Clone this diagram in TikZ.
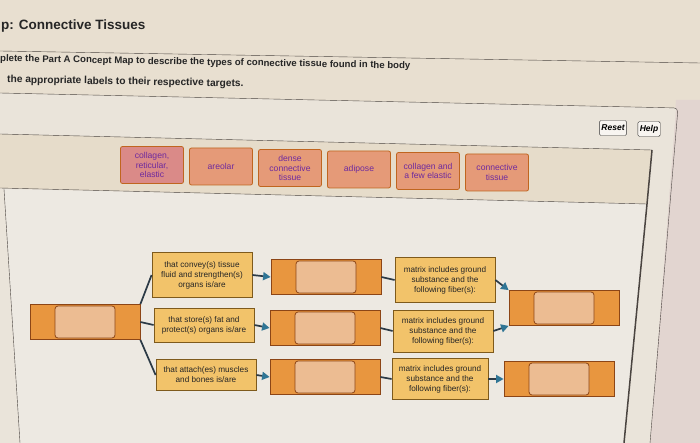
\documentclass[tikz,border=0pt]{standalone}
\usepackage{fontspec}
\setmainfont{Liberation Sans}
\usetikzlibrary{arrows.meta}
\definecolor{paper}{HTML}{E8DFD0}
\definecolor{panel}{HTML}{EAE4DA}
\definecolor{bank}{HTML}{E6DCCA}
\definecolor{map}{HTML}{EDE9E2}
\definecolor{rim}{HTML}{E2D5D0}
\definecolor{ruleline}{HTML}{4A4440}
\definecolor{tilefill}{HTML}{E59A78}
\definecolor{tilepink}{HTML}{DA8A88}
\definecolor{tileline}{HTML}{C0651F}
\definecolor{tiletext}{HTML}{6E2A9E}
\definecolor{descfill}{HTML}{F2C36A}
\definecolor{descline}{HTML}{7E5A1C}
\definecolor{boxfill}{HTML}{E8963F}
\definecolor{boxline}{HTML}{8C4516}
\definecolor{slotfill}{HTML}{ECBC92}
\definecolor{linkline}{HTML}{2C3A46}
\definecolor{tipblue}{HTML}{2F7595}

\begin{document}
\begin{tikzpicture}[x=1pt, y=-1pt, node distance=69pt,
	label node/.style={draw=tileline, fill=tilefill, rounded corners=2pt, thick, minimum width=63pt, minimum height=37pt, inner sep=1pt, align=center, text=tiletext, font=\fontsize{8.6}{9.8}\selectfont},
	text node/.style={draw=descline, fill=descfill, thick, minimum width=100pt, inner sep=1.5pt, align=center, text=black!85, font=\fontsize{8.2}{10}\selectfont},
	target node/.style={draw=boxline, fill=boxfill, thick, minimum width=110pt, minimum height=35pt},
	slot node/.style={draw=boxline, fill=slotfill, rounded corners=3pt, thick, minimum width=60pt, minimum height=32pt},
	button node/.style={draw=black!80, fill=white!70!paper, rounded corners=1.5pt, inner sep=2pt, minimum height=15pt, font=\fontsize{8.5}{9}\selectfont\bfseries\itshape},
	head node/.style={anchor=west, text=black!85, inner sep=0pt},
	link/.style={draw=linkline, line width=1.7pt},
	tip arrow/.style={-{Triangle[length=7.5pt,width=8pt,color=tipblue]}}]

	\useasboundingbox (0,0) rectangle (700,443);
	\fill[paper] (0,0) rectangle (700,443);

	% screen panels
	\fill[rim] (676,100) -- (700,100) -- (700,443) -- (650,443) -- cycle;
	\fill[panel] (0,93) -- (676,108) -- (650,443) -- (0,443) -- cycle;
	\fill[bank] (0,134) -- (652,150) -- (647,204) -- (0,188) -- cycle;
	\fill[map] (4,189) -- (647,204) -- (624,443) -- (20,443) -- cycle;
	\draw[ruleline, thin] (0,51) -- (700,63);
	\draw[ruleline, thin, rounded corners=4pt] (0,93) -- (678,108) -- (650,443);
	\draw[ruleline, thin] (0,134) -- (652,150);
	\draw[ruleline, thin] (0,188) -- (647,204);
	\draw[ruleline, line width=1.5pt] (652,150) -- (647,204) -- (624,443);
	\draw[ruleline, thin] (4,189) -- (20,443);

	% heading
	\node[head node, font=\fontsize{13.5}{15}\selectfont\bfseries] (title) at (1,26) {p: Connective Tissues};
	\node[head node, rotate=-1, font=\fontsize{9.6}{11}\selectfont\bfseries] (line1) at (0,59) {plete the Part A Concept Map to describe the types of connective tissue found in the body};
	\node[head node, rotate=-1, font=\fontsize{10.2}{11}\selectfont\bfseries] (line2) at (7,80) {the appropriate labels to their respective targets.};

	\node[button node] (reset) at (613,128) {Reset};
	\node[button node] (help) at (649,129) {Help};

	% label bank
	\node[label node, fill=tilepink] (c1) at (152,165) {collagen,\\reticular,\\elastic};
	\node[label node] (c2) [right of=c1, yshift=-1.5pt] {areolar};
	\node[label node] (c3) [right of=c2, yshift=-1.5pt] {dense\\connective\\tissue};
	\node[label node] (c4) [right of=c3, yshift=-1.5pt] {adipose};
	\node[label node] (c5) [right of=c4, yshift=-1.5pt] {collagen and\\a few elastic};
	\node[label node] (c6) [right of=c5, yshift=-1.5pt] {connective\\tissue};

	% concept map
	\node[target node] (r) at (85,322) {};
	\node[slot node] (rs) at (r) {};

	\node[text node, minimum height=45pt] (d1) at (202,275) {that convey(s) tissue\\fluid and strengthen(s)\\organs is/are};
	\node[text node, minimum height=34pt] (d2) at (204,325) {that store(s) fat and\\protect(s) organs is/are};
	\node[text node, minimum height=31pt] (d3) at (206,375) {that attach(es) muscles\\and bones is/are};

	\node[target node] (t1) at (326,277) {};
	\node[slot node] (t1s) at (t1) {};
	\node[target node] (t2) at (325,328) {};
	\node[slot node] (t2s) at (t2) {};
	\node[target node] (t3) at (325,377) {};
	\node[slot node] (t3s) at (t3) {};

	\node[text node, minimum height=45pt] (m1) at (445,280) {matrix includes ground\\substance and the\\following fiber(s):};
	\node[text node, minimum height=42pt] (m2) at (443,331) {matrix includes ground\\substance and the\\following fiber(s):};
	\node[text node, minimum height=41pt, minimum width=96pt] (m3) at (440,379) {matrix includes ground\\substance and the\\following fiber(s):};

	\node[target node] (f1) at (564,308) {};
	\node[slot node] (f1s) at (f1) {};
	\node[target node] (f2) at (559,379) {};
	\node[slot node] (f2s) at (f2) {};

	\path[link]
	(r.north east) edge (d1.west)
	(r.east) edge (d2.west)
	(r.south east) edge (d3.west)
	(t1.east) edge (m1.west)
	(t2.east) edge (m2.west)
	(t3.east) edge (m3.west)
	(d1.east) edge[tip arrow] (t1.west)
	(d2.east) edge[tip arrow] (t2.west)
	(d3.east) edge[tip arrow] (t3.west)
	(m1.east) edge[tip arrow] (f1.north west)
	(m2.east) edge[tip arrow] (f1.south west)
	(m3.east) edge[tip arrow] (f2.west);
\end{tikzpicture}
\end{document}
